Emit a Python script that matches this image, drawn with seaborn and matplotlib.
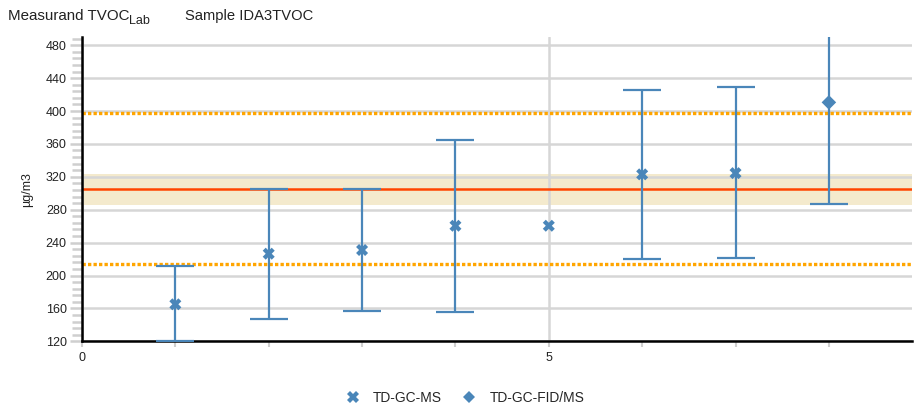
import numpy as np
import pandas as pd
import matplotlib
matplotlib.use("Agg")
import matplotlib.pyplot as plt
from matplotlib.ticker import MultipleLocator, FixedLocator
from matplotlib.lines import Line2D
import seaborn as sns

# ---- data ----
lab_index = [1, 2, 3, 4, 5, 6, 7, 8]
methods = ["TD-GC-MS", "TD-GC-MS", "TD-GC-MS", "TD-GC-MS", "TD-GC-MS",
           "TD-GC-MS", "TD-GC-MS", "TD-GC-FID/MS"]
values = [165, 226.5, 231, 260.5, 260.5, 323, 324.5, 410.5]
err_low = [120, 147, 157, 155.5, np.nan, 219.5, 221, 286.5]
err_high = [211, 305.5, 305.5, 364.5, np.nan, 426, 429, 535]

assigned_value = 305.5
assigned_band = [285.5, 323]
tolerance_limits = [213.5, 398]

title_main = "Measurand TVOC"
title_sub = "Lab"
title_sample = "Sample IDA3TVOC"
y_label = "µg/m3"
legend_labels = ["TD-GC-MS", "TD-GC-FID/MS"]

# ---- style ----
sns.set_theme(style="white")
plt.rcParams["font.family"] = ["Liberation Sans", "DejaVu Sans"]

blue = "#4a86b9"
fig = plt.figure(figsize=(9.14, 4.12), dpi=100)
ax = fig.add_axes([0.0897, 0.1716, 0.9081, 0.7386])

df = pd.DataFrame({"lab": lab_index, "value": values, "method": methods,
                   "lo": err_low, "hi": err_high})

ax.axhspan(assigned_band[0], assigned_band[1], color="#f4eacd", zorder=0.2, lw=0)

ax.errorbar(df["lab"], df["value"],
            yerr=[df["value"] - df["lo"], df["hi"] - df["value"]],
            fmt="none", ecolor=blue, elinewidth=1.6, capsize=13.5,
            capthick=1.6, zorder=3)

ax.axhline(assigned_value, color="#ff4500", lw=1.8, zorder=2)
for t in tolerance_limits:
    ax.axhline(t, color="#ffa500", lw=2.4, ls=(0, (1.0, 0.65)), zorder=2)

sns.scatterplot(data=df, x="lab", y="value", style="method",
                markers={"TD-GC-MS": "X", "TD-GC-FID/MS": "D"},
                size="method", sizes={"TD-GC-MS": 75, "TD-GC-FID/MS": 55},
                color=blue, linewidth=0, zorder=4, ax=ax, legend=False)

ax.set_xlim(0, 8.89)
ax.set_ylim(120, 490)

ax.yaxis.set_major_locator(FixedLocator(np.arange(120, 481, 40)))
ax.yaxis.set_minor_locator(MultipleLocator(8))
ax.xaxis.set_major_locator(FixedLocator([0, 5]))
ax.xaxis.set_minor_locator(MultipleLocator(1))

ax.set_axisbelow(True)
ax.grid(True, which="major", axis="both", color="#d6d6d6", lw=1.8)
ax.grid(False, which="minor")

ax.tick_params(axis="y", which="major", length=9, width=1.8, color="#cfcfcf",
               labelsize=9, labelcolor="#222222", pad=2, left=True)
ax.tick_params(axis="y", which="minor", length=7, width=1.8, color="#cfcfcf", left=True)
ax.tick_params(axis="x", which="both", length=4, width=1.5, color="#cfcfcf",
               labelsize=9, labelcolor="#222222", pad=4, bottom=True)

for s in ["top", "right"]:
    ax.spines[s].set_visible(False)
for s in ["left", "bottom"]:
    ax.spines[s].set_color("black")
    ax.spines[s].set_linewidth(1.8)

ax.set_xlabel("")
ax.set_ylabel(y_label, fontsize=9, color="#222222", labelpad=9)

# title with a manually placed subscript
base_y = 1 - 20 / 412
t_main = fig.text(8 / 914, base_y, title_main, fontsize=10.9, color="#222222",
                  va="baseline")
renderer = fig.canvas.get_renderer()
bb = t_main.get_window_extent(renderer=renderer)
fig.text(bb.x1 / fig.bbox.width, base_y - 4.5 / 412, title_sub,
         fontsize=9, color="#222222", va="baseline")
fig.text(185 / 914, base_y, title_sample, fontsize=10.6, color="#222222",
         va="baseline")

handles = [Line2D([], [], ls="none", marker="X", color=blue, markersize=8, mew=0),
           Line2D([], [], ls="none", marker="D", color=blue, markersize=6.5, mew=0)]
fig.legend(handles, legend_labels, loc="center",
           bbox_to_anchor=(0.509, 1 - 398 / 412), ncol=2, frameon=False,
           fontsize=9.9, handletextpad=0.95, columnspacing=1.5, handlelength=1.0)

fig.savefig("out.png", dpi=100)
